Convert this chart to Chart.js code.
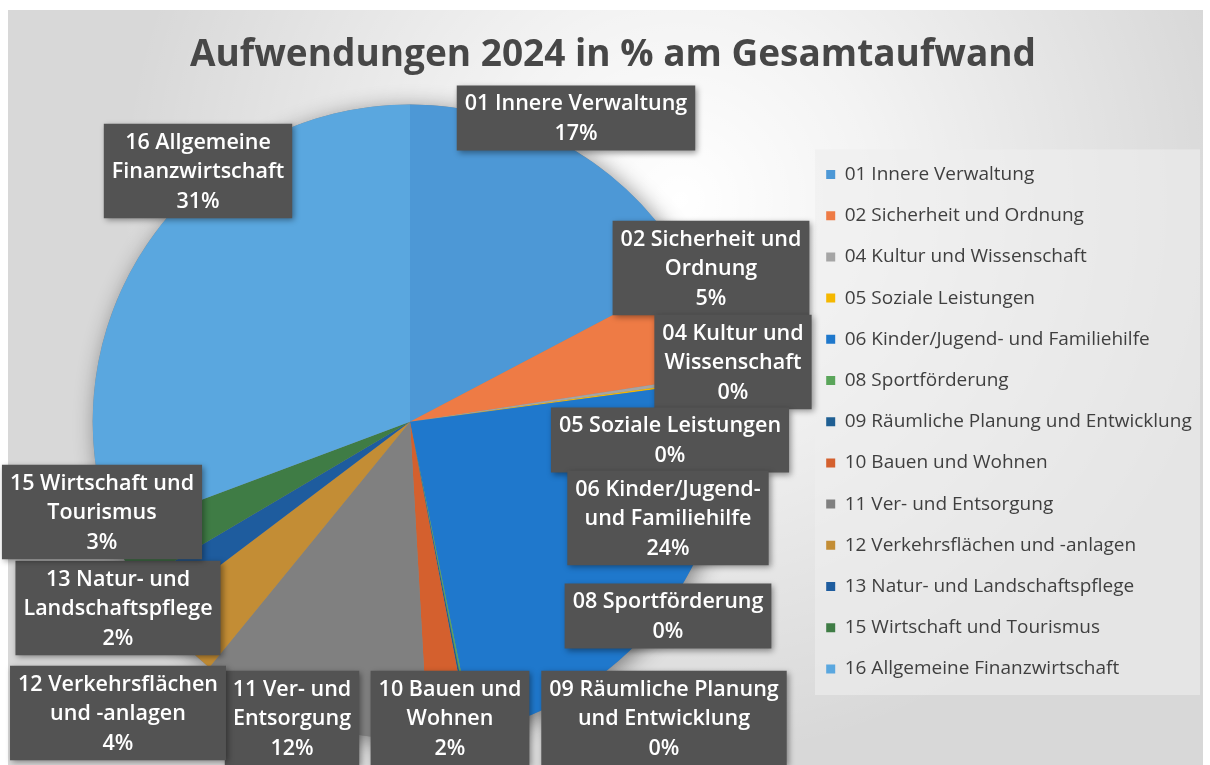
<!DOCTYPE html>
<html lang="de">
<head>
<meta charset="utf-8">
<title>Aufwendungen 2024 in % am Gesamtaufwand</title>
<script src="https://cdn.jsdelivr.net/npm/chart.js@4.4.1/dist/chart.umd.min.js"></script>
<style>
  html, body { margin: 0; padding: 0; background: #fff; }
  #chart_pie { display: block; }
</style>
</head>
<body>
<canvas id="chart_pie" width="1210" height="765"></canvas>
<script>
// Daten
const categories = [
  '01 Innere Verwaltung',
  '02 Sicherheit und Ordnung',
  '04 Kultur und Wissenschaft',
  '05 Soziale Leistungen',
  '06 Kinder/Jugend- und Familiehilfe',
  '08 Sportförderung',
  '09 Räumliche Planung und Entwicklung',
  '10 Bauen und Wohnen',
  '11 Ver- und Entsorgung',
  '12 Verkehrsflächen und -anlagen',
  '13 Natur- und Landschaftspflege',
  '15 Wirtschaft und Tourismus',
  '16 Allgemeine Finanzwirtschaft'
]
const values = [17.3, 5.3, 0.2, 0.1, 23.9, 0.1, 0.1, 2.1, 11.8, 3.8, 1.8, 2.8, 30.7]

// Zeilenumbruch der Beschriftungen wie im Original
const labelLines = [
  ['01 Innere Verwaltung'],
  ['02 Sicherheit und', 'Ordnung'],
  ['04 Kultur und', 'Wissenschaft'],
  ['05 Soziale Leistungen'],
  ['06 Kinder/Jugend-', 'und Familiehilfe'],
  ['08 Sportförderung'],
  ['09 Räumliche Planung', 'und Entwicklung'],
  ['10 Bauen und', 'Wohnen'],
  ['11 Ver- und', 'Entsorgung'],
  ['12 Verkehrsflächen', 'und -anlagen'],
  ['13 Natur- und', 'Landschaftspflege'],
  ['15 Wirtschaft und', 'Tourismus'],
  ['16 Allgemeine', 'Finanzwirtschaft']
]

const colors = [
  '#4d98d6', '#ee7b45', '#a5a5a5', '#f5b800', '#1f78cc', '#5aa55a', '#1f5f93',
  '#d4602e', '#808080', '#c38d35', '#1e5c9e', '#3f7c45', '#5aa7df'
]

// Mittelpunkte der Beschriftungskästen (manuell verschoben wie in Excel)
const labelPos = [
  [576, 118], [711, 268], [733, 362], [670, 440], [668, 518], [668, 616], [664, 718],
  [450, 718], [292, 718], [118, 713], [118, 608], [102, 512], [198, 171]
]

// Hintergrund, Legendenfeld, Schatten
const background = {
  id: 'background',
  beforeDraw(chart){
    const ctx = chart.ctx
    const w = chart.width, h = chart.height
    ctx.save()
    ctx.fillStyle = '#ffffff'
    ctx.fillRect(0, 0, w, h)
    ctx.fillStyle = '#d8d8d8'
    ctx.fillRect(8, 10, w - 15, h - 10)
    const g = ctx.createRadialGradient(680, 200, 0, 680, 200, 560)
    g.addColorStop(0, 'rgba(255,255,255,1)')
    g.addColorStop(0.35, 'rgba(255,255,255,0.7)')
    g.addColorStop(1, 'rgba(255,255,255,0)')
    ctx.fillStyle = g
    ctx.fillRect(8, 10, w - 15, h - 10)
    // Legendenfeld
    const lg = chart.legend
    ctx.fillStyle = 'rgba(238,238,238,0.6)'
    ctx.fillRect(lg.left + 11, lg.top + 45, lg.right - lg.left - 21, lg.bottom - lg.top - 89)
    ctx.restore()
  },
  beforeDatasetsDraw(chart){
    const arc = chart.getDatasetMeta(0).data[0]
    const ctx = chart.ctx
    ctx.save()
    ctx.shadowColor = 'rgba(0,0,0,0.45)'
    ctx.shadowBlur = 22
    ctx.shadowOffsetX = 4
    ctx.shadowOffsetY = 4
    ctx.fillStyle = '#888'
    ctx.beginPath()
    ctx.arc(arc.x, arc.y, arc.outerRadius, 0, Math.PI * 2)
    ctx.fill()
    ctx.restore()
  }
}

// Datenbeschriftungen als dunkle Kästen
const boxLabels = {
  id: 'boxLabels',
  afterDatasetsDraw(chart){
    const ctx = chart.ctx
    const total = values.reduce((a, b) => a + b, 0)
    const lh = 29.5
    ctx.save()
    ctx.font = '600 21.5px "Open Sans"'
    ctx.textAlign = 'center'
    ctx.textBaseline = 'middle'
    labelLines.forEach((lines, i) => {
      const txt = lines.concat(Math.round(values[i] / total * 100) + '%')
      const w = Math.max(...txt.map(t => ctx.measureText(t).width)) + 16
      const h = txt.length * lh + 6
      const [cx, cy] = labelPos[i]
      ctx.shadowColor = 'rgba(0,0,0,0.4)'
      ctx.shadowBlur = 6
      ctx.shadowOffsetX = 2
      ctx.shadowOffsetY = 2
      ctx.fillStyle = '#535353'
      ctx.fillRect(cx - w / 2, cy - h / 2, w, h)
      ctx.shadowColor = 'transparent'
      ctx.fillStyle = '#ffffff'
      txt.forEach((t, k) => ctx.fillText(t, cx, cy - h / 2 + 4 + lh * k + lh / 2))
    })
    ctx.restore()
  }
}

// feste Breite der Legende
const legendWidth = {
  id: 'legendWidth',
  beforeInit(chart){
    const fit = chart.legend.fit
    chart.legend.fit = function(){
      fit.call(this)
      this.width = 406
    }
  }
}

Chart.defaults.font.family = "'Open Sans', sans-serif"

new Chart(document.getElementById('chart_pie'), {
  type: 'pie',
  data: {
    labels: categories,
    datasets: [{
      data: values,
      backgroundColor: colors,
      borderWidth: 0
    }]
  },
  options: {
    responsive: false,
    animation: false,
    layout: { padding: { left: 16, bottom: 26 } },
    plugins: {
      title: {
        display: true,
        text: 'Aufwendungen 2024 in % am Gesamtaufwand',
        color: '#474747',
        font: { size: 37, weight: 'bold' },
        padding: { top: 33, bottom: 27 }
      },
      legend: {
        position: 'right',
        align: 'center',
        fullSize: false,
        labels: {
          boxWidth: 9,
          boxHeight: 9,
          padding: 22.2,
          color: '#3f3f3f',
          font: { size: 19 }
        }
      },
      tooltip: { enabled: false }
    }
  },
  plugins: [legendWidth, background, boxLabels]
})
</script>
</body>
</html>
